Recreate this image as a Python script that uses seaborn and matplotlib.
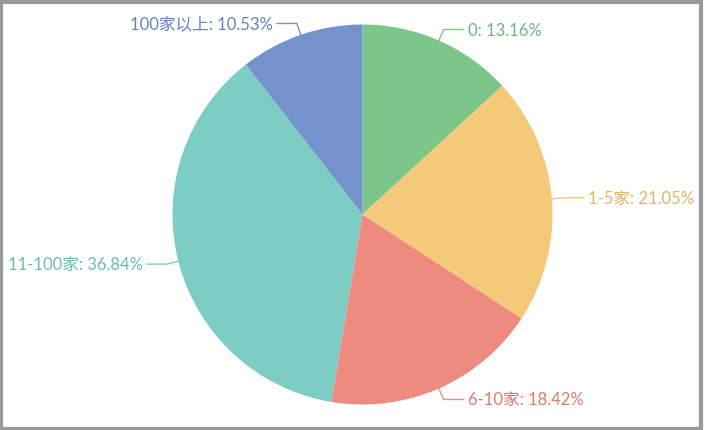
import numpy as np
import matplotlib
matplotlib.use("Agg")
import matplotlib.pyplot as plt
import seaborn as sns

# --- DATA ---
categories = ["0", "1-5家", "6-10家", "11-100家", "100家以上"]
shares = [13.16, 21.05, 18.42, 36.84, 10.53]
colors = ["#7cc68a", "#f5c97a", "#ee8b7e", "#7ecdc4", "#7492cc"]
text_colors = ["#6cb57b", "#e3b463", "#de7b6f", "#6bbdb4", "#6582bd"]

# --- STYLE ---
sns.set_theme(style="white")
plt.rcParams["font.family"] = ["Lato", "Noto Sans CJK SC", "DejaVu Sans"]

W, H = 705, 431
fig = plt.figure(figsize=(W / 100, H / 100), dpi=100)
ax = fig.add_axes([0, 0, 1, 1])

# pie in pixel coordinates
cx, cy, r = 362.5, H - 215.5, 190
palette = sns.color_palette(colors)
wedges, _ = ax.pie(shares, colors=palette, startangle=90, counterclock=False,
                   center=(cx, cy), radius=r, frame=True,
                   wedgeprops=dict(linewidth=0))
ax.set_xlim(0, W)
ax.set_ylim(0, H)
ax.set_aspect("equal")
ax.axis("off")

# label lines + labels
len1, len2, gap = 12, 20, 4
for w, cat, val, col, tcol in zip(wedges, categories, shares, colors, text_colors):
    theta = np.deg2rad((w.theta1 + w.theta2) / 2)
    dx, dy = np.cos(theta), np.sin(theta)
    p0 = (cx + r * dx, cy + r * dy)
    p1 = (cx + (r + len1) * dx, cy + (r + len1) * dy)
    side = 1 if dx >= 0 else -1
    p2 = (p1[0] + side * len2, p1[1])
    ax.plot([p0[0], p1[0], p2[0]], [p0[1], p1[1], p2[1]], color=col, lw=1,
            solid_joinstyle="round")
    ax.text(p2[0] + side * gap, p2[1], f"{cat}: {val:.2f}%", color=tcol,
            fontsize=12, ha="left" if side > 0 else "right", va="center")

# outer gray frame
fig.patches.append(plt.Rectangle((0.0015, 0.003), 0.9935, 0.991, transform=fig.transFigure,
                                 fill=False, edgecolor="#9a9a9a", lw=3))

fig.savefig("out.png", dpi=100, facecolor="white")
